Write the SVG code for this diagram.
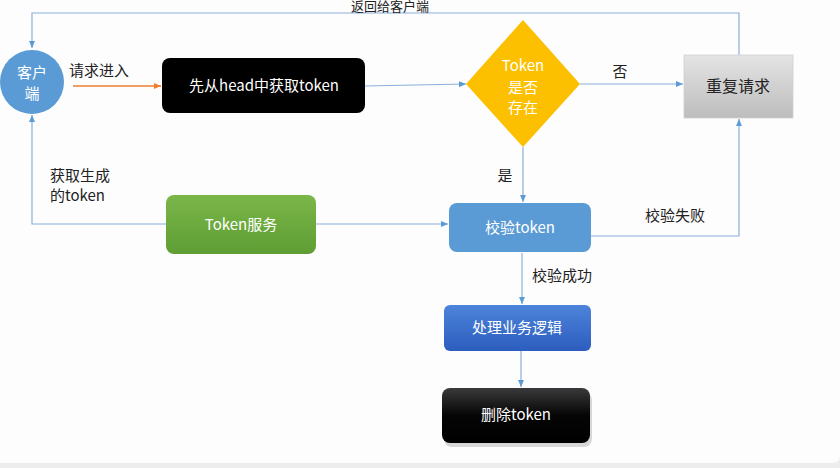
<svg xmlns="http://www.w3.org/2000/svg" width="840" height="468" viewBox="0 0 840 468">
<style>
text{font-family:"Noto Sans CJK SC","Noto Sans",sans-serif;font-size:15px;}
.w{fill:#ffffff;text-anchor:middle;}
.d{fill:#222222;}
.c{fill:none;stroke:#8AB0DA;stroke-width:1.2;}
</style>
<defs>
<marker id="ab" markerWidth="8" markerHeight="8" refX="7" refY="4" orient="auto" markerUnits="userSpaceOnUse">
<path d="M0,1 L7,4 L0,7 Z" fill="#5B9BD5"/>
</marker>
<marker id="ao" markerWidth="8" markerHeight="8" refX="7" refY="4" orient="auto" markerUnits="userSpaceOnUse">
<path d="M0,1 L7,4 L0,7 Z" fill="#ED7D31"/>
</marker>
<linearGradient id="gGray" x1="0" y1="0" x2="0" y2="1">
<stop offset="0" stop-color="#E4E4E4"/><stop offset="1" stop-color="#BDBDBD"/>
</linearGradient>
<linearGradient id="gGreen" x1="0" y1="0" x2="0" y2="1">
<stop offset="0" stop-color="#7BB649"/><stop offset="1" stop-color="#5E9E34"/>
</linearGradient>
<linearGradient id="gBlue" x1="0" y1="0" x2="0" y2="1">
<stop offset="0" stop-color="#4D84DA"/><stop offset="1" stop-color="#2C5DBE"/>
</linearGradient>
<linearGradient id="gBlack" x1="0" y1="0" x2="0" y2="1">
<stop offset="0" stop-color="#3A3A3C"/><stop offset="0.5" stop-color="#050505"/><stop offset="1" stop-color="#000000"/>
</linearGradient>
</defs>
<rect x="0" y="0" width="840" height="468" fill="#EDEDED"/>
<path d="M0,0 H840 V455 Q840,463 832,463 H0 Z" fill="#FEFDFE"/>

<g id="connectors">
<path class="c" d="M739,55 V13 H32 V48" marker-end="url(#ab)"/>
<line x1="73" y1="86" x2="161" y2="86" stroke="#ED7D31" stroke-width="1.5" marker-end="url(#ao)"/>
<path class="c" d="M365,86 L466,84" marker-end="url(#ab)"/>
<path class="c" d="M580,84 H683" marker-end="url(#ab)"/>
<path class="c" d="M523,147 V202" marker-end="url(#ab)"/>
<path class="c" d="M591,236 H739 V119" marker-end="url(#ab)"/>
<path class="c" d="M166,224 H32 V115" marker-end="url(#ab)"/>
<path class="c" d="M316,224 H448" marker-end="url(#ab)"/>
<path class="c" d="M522,253 V304" marker-end="url(#ab)"/>
<path class="c" d="M521,351 V387" marker-end="url(#ab)"/>
<text class="d" x="390" y="11" text-anchor="middle" style="font-size:13px">返回给客户端</text>
<text class="d" x="69" y="76">请求进入</text>
<text class="d" x="620" y="77" text-anchor="middle">否</text>
<text class="d" x="505" y="181" text-anchor="middle">是</text>
<text class="d" x="645" y="221">校验失败</text>
<text class="d" x="50" y="181">获取生成</text>
<text class="d" x="50" y="201">的token</text>
<text class="d" x="532" y="281">校验成功</text>
</g>

<g id="client">
<circle cx="32" cy="82" r="32" fill="#5B9BD5"/>
<text class="w" x="32" y="78">客户</text>
<text class="w" x="32" y="99">端</text>
</g>

<g id="getToken">
<rect x="162" y="58" width="203" height="55" rx="8" fill="#000000"/>
<text class="w" x="264" y="91">先从head中获取token</text>
</g>

<g id="decision">
<polygon points="523,20 580,84 523,147 466,84" fill="#FDC000"/>
<text class="w" x="523" y="71" fill="#FFF3D0">Token</text>
<text class="w" x="523" y="93">是否</text>
<text class="w" x="523" y="113">存在</text>
</g>

<g id="retry">
<rect x="684" y="55" width="109" height="63" fill="url(#gGray)" stroke="#D0D0D0" stroke-width="0.8"/>
<text x="738" y="92" text-anchor="middle" fill="#222" style="font-size:16px">重复请求</text>
</g>

<g id="tokenService">
<rect x="166" y="195" width="150" height="59" rx="8" fill="url(#gGreen)"/>
<text class="w" x="241" y="230">Token服务</text>
</g>

<g id="verify">
<rect x="449" y="203" width="142" height="49" rx="8" fill="#5B9BD5"/>
<text class="w" x="520" y="233">校验token</text>
</g>

<g id="business">
<rect x="444" y="305" width="147" height="46" rx="6" fill="url(#gBlue)"/>
<text class="w" x="517" y="333">处理业务逻辑</text>
</g>

<g id="deleteToken">
<rect x="443" y="390" width="148" height="55" rx="8" fill="#000" opacity="0.15" transform="translate(1,2)"/>
<rect x="442" y="388" width="148" height="55" rx="8" fill="url(#gBlack)"/>
<text class="w" x="516" y="420" fill="#E8E8E8">删除token</text>
</g>
</svg>
